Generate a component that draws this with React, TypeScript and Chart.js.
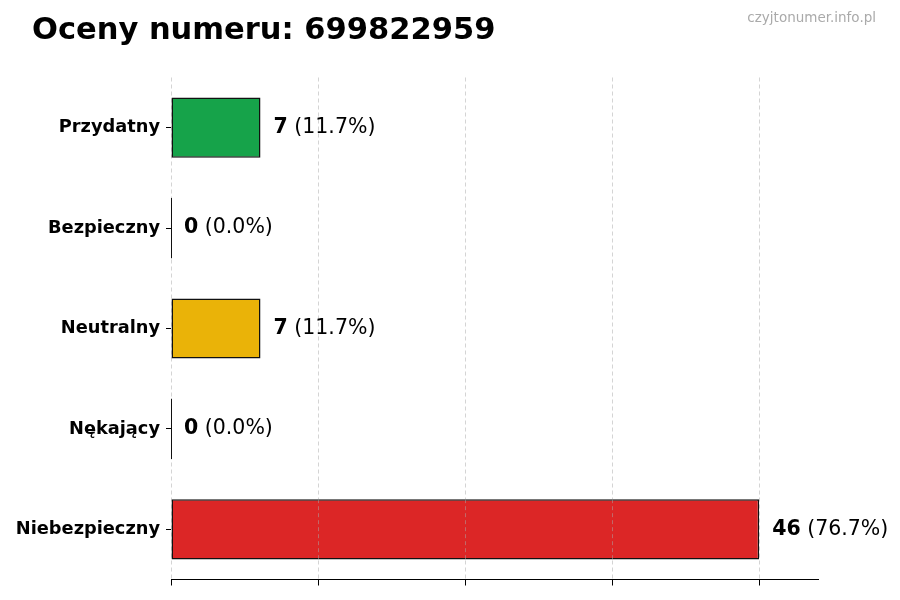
import { useEffect, useRef } from 'react';
import { Chart, registerables } from 'chart.js';

Chart.register(...registerables);

const categories = ['Przydatny', 'Bezpieczny', 'Neutralny', 'Nękający', 'Niebezpieczny'];
const counts = [7, 0, 7, 0, 46];
const barColors = ['#16a34a', '#16a34a', '#eab308', '#eab308', '#dc2626'];

const FONT = '"DejaVu Sans", sans-serif';
const GRID = 'rgba(170,170,170,0.5)';
const total = counts.reduce((a, b) => a + b, 0);
const maxVal = Math.max(...counts);

const overlay = {
  id: 'overlay',
  afterDatasetsDraw(chart: Chart) {
    const { ctx } = chart;
    const meta = chart.getDatasetMeta(0);
    const xs: any = chart.scales.x;
    ctx.save();
    // grid lines show through the bars, as in the original
    ctx.strokeStyle = GRID;
    ctx.lineWidth = 1;
    ctx.setLineDash([4, 3]);
    meta.data.forEach((bar: any, i: number) => {
      const half = bar.height / 2;
      xs.ticks.forEach((t: any) => {
        if (t.value <= 0 || t.value >= counts[i]) return;
        const px = Math.round(xs.getPixelForValue(t.value)) + 0.5;
        ctx.beginPath();
        ctx.moveTo(px, bar.y - half);
        ctx.lineTo(px, bar.y + half);
        ctx.stroke();
      });
    });
    ctx.setLineDash([]);
    // empty bars still show their outline as a thin dark line
    ctx.strokeStyle = '#111';
    meta.data.forEach((bar: any, i: number) => {
      if (counts[i] !== 0) return;
      const px = Math.round(xs.getPixelForValue(0)) + 0.5;
      const half = bar.height / 2;
      ctx.beginPath();
      ctx.moveTo(px, bar.y - half);
      ctx.lineTo(px, bar.y + half);
      ctx.stroke();
    });
    ctx.textBaseline = 'middle';
    ctx.fillStyle = '#000';
    meta.data.forEach((bar: any, i: number) => {
      const v = counts[i];
      const pct = ((v / total) * 100).toFixed(1);
      const x = bar.x + 13;
      ctx.font = `bold 20.5px ${FONT}`;
      ctx.fillText(String(v), x, bar.y);
      const w = ctx.measureText(String(v)).width;
      ctx.font = `20.5px ${FONT}`;
      ctx.fillText(` (${pct}%)`, x + w, bar.y);
    });
    ctx.restore();
  },
  afterDraw(chart: Chart) {
    const { ctx } = chart;
    ctx.save();
    ctx.textBaseline = 'middle';
    ctx.fillStyle = '#000';
    ctx.font = `bold 30.5px ${FONT}`;
    ctx.textAlign = 'left';
    ctx.fillText('Oceny numeru: 699822959', 32, 31);
    ctx.fillStyle = '#aaaaaa';
    ctx.font = `13.5px ${FONT}`;
    ctx.textAlign = 'right';
    ctx.fillText('czyjtonumer.info.pl', 876, 18);
    ctx.restore();
  },
};

export default function App() {
  const canvasRef = useRef<HTMLCanvasElement>(null);
  const chartRef = useRef<Chart | null>(null);

  useEffect(() => {
    if (!canvasRef.current) return;
    chartRef.current?.destroy();

    chartRef.current = new Chart(canvasRef.current, {
      type: 'bar',
      data: {
        labels: categories,
        datasets: [
          {
            data: counts,
            backgroundColor: barColors,
            borderColor: '#111',
            borderWidth: 1.5,
            borderSkipped: false,
            categoryPercentage: 1,
            barPercentage: 0.6,
          },
        ],
      },
      options: {
        indexAxis: 'y',
        animation: false,
        responsive: true,
        maintainAspectRatio: false,
        layout: { padding: { left: 0, top: 77.5, right: 82, bottom: 14.5 } },
        plugins: {
          legend: { display: false },
          title: { display: false },
          tooltip: { enabled: false },
        },
        scales: {
          x: {
            type: 'linear',
            min: 0,
            max: maxVal * 1.1,
            afterBuildTicks: (scale: any) => {
              scale.ticks = [0, 1, 2, 3, 4].map((i) => ({ value: (maxVal * i) / 4 }));
            },
            afterFit: (scale: any) => {
              scale.height = 6;
            },
            ticks: { display: false },
            grid: {
              color: GRID,
              lineWidth: 1,
              drawTicks: true,
              tickLength: 6,
              tickColor: '#000',
            },
            border: { display: true, color: '#000', width: 1, dash: [4, 3] },
          },
          y: {
            afterFit: (scale: any) => {
              scale.width = 171;
            },
            ticks: {
              color: '#000',
              padding: 6,
              font: { family: FONT, size: 17.8, weight: 'bold' },
            },
            grid: {
              offset: false,
              drawOnChartArea: false,
              drawTicks: true,
              tickLength: 5,
              tickColor: '#000',
            },
            border: { display: false },
          },
        },
      },
      plugins: [overlay],
    });

    return () => {
      chartRef.current?.destroy();
    };
  }, []);

  return (
    <div style={{ position: 'absolute', left: 0, top: 0, width: 900, height: 600, background: '#fff' }}>
      <canvas ref={canvasRef} />
    </div>
  );
}
